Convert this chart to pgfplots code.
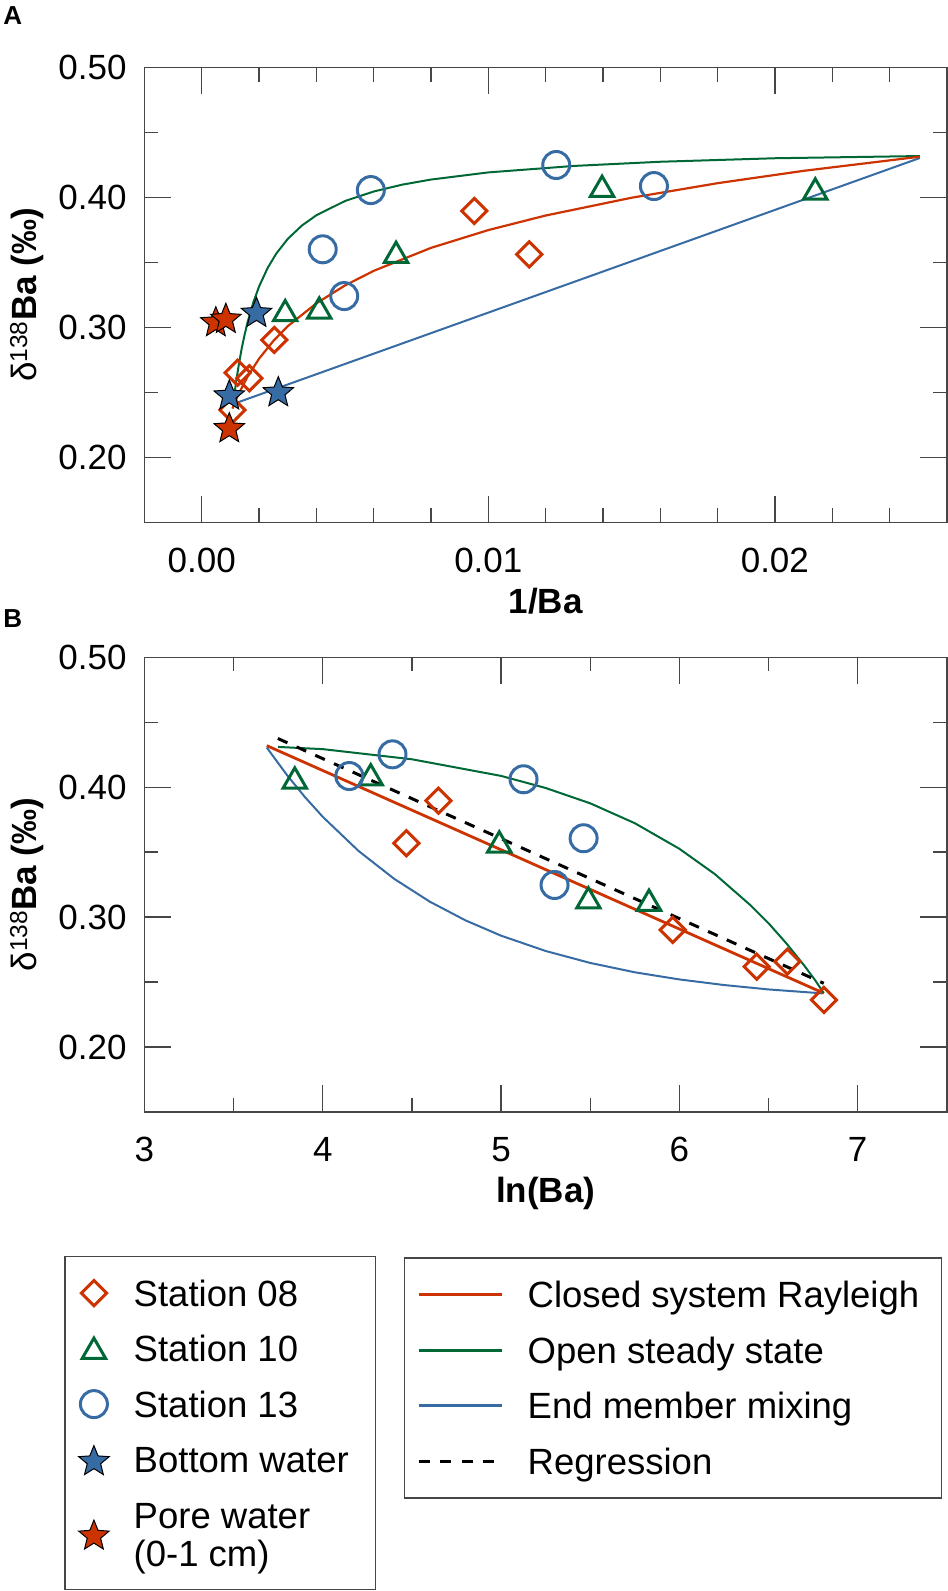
\documentclass[border=0pt]{standalone}
\usepackage{fontspec}
\setmainfont{Liberation Sans}
\usepackage{pgfplots}
\pgfplotsset{compat=1.18}
\definecolor{cred}{RGB}{204,51,0}
\definecolor{cgreen}{RGB}{0,104,55}
\definecolor{cblue}{RGB}{55,107,163}
\definecolor{axgray}{RGB}{70,70,70}

\pgfdeclareplotmark{fstar}{%
  \pgfpathmoveto{\pgfpointpolar{90}{\pgfplotmarksize}}%
  \pgfpathlineto{\pgfpointpolar{126}{0.44\pgfplotmarksize}}%
  \pgfpathlineto{\pgfpointpolar{162}{\pgfplotmarksize}}%
  \pgfpathlineto{\pgfpointpolar{198}{0.44\pgfplotmarksize}}%
  \pgfpathlineto{\pgfpointpolar{234}{\pgfplotmarksize}}%
  \pgfpathlineto{\pgfpointpolar{270}{0.44\pgfplotmarksize}}%
  \pgfpathlineto{\pgfpointpolar{306}{\pgfplotmarksize}}%
  \pgfpathlineto{\pgfpointpolar{342}{0.44\pgfplotmarksize}}%
  \pgfpathlineto{\pgfpointpolar{18}{\pgfplotmarksize}}%
  \pgfpathlineto{\pgfpointpolar{54}{0.44\pgfplotmarksize}}%
  \pgfpathclose
  \pgfusepathqfillstroke}

\newcommand{\tfont}{\fontsize{35}{40}\selectfont}
\newcommand{\lfont}{\fontsize{36.5}{40}\selectfont}
\newcommand{\srow}{\rule[-14.65pt]{0pt}{55.5pt}}
\newcommand{\lentL}[1]{\makebox[241.7pt][l]{\lfont\srow #1}}
\newcommand{\lentR}[1]{\makebox[413.8pt][l]{\lfont\srow #1}}

\pgfplotsset{
  mystyle/.style={
    scale only axis, width=802.3pt, height=454.6pt,
    ymin=0.15, ymax=0.5,
    ytick={0.2,0.3,0.4,0.5}, yticklabels={0.20,0.30,0.40,0.50},
    minor ytick={0.25,0.35,0.45},
    tick align=inside, major tick length=26.7pt, minor tick length=14pt,
    tick style={line width=1.3pt, color=axgray},
    axis line style={line width=1.5pt, color=axgray},
    tick label style={font=\tfont, inner sep=0pt},
    yticklabel style={anchor=east, xshift=-17.7pt},
    xticklabel style={anchor=base, yshift=-49.7pt},
    ylabel={δ\textsuperscript{138}\textbf{Ba (‰)}},
    ylabel style={at={(axis description cs:-0.1467,0.5)}, anchor=center, font=\tfont, inner sep=0pt},
    xlabel style={at={(axis description cs:0.5,0)}, anchor=base, yshift=-91pt, font=\tfont\bfseries, inner sep=0pt},
    /pgf/number format/assume math mode=true,
    scaled x ticks=false, scaled y ticks=false,
    legend cell align=left,
  },
  mylegend/.style={
    legend style={draw=axgray, line width=1.3pt, fill=white,
      inner xsep=0pt, inner ysep=9pt, row sep=0pt, column sep=0pt,
      nodes={inner sep=0pt, text depth=, font=\lfont}, cells={anchor=west}},
  },
  markleg/.style 2 args={legend image code/.code={\path[draw=none,fill=none] (-28.8pt,-1pt) rectangle (39.8pt,1pt); \draw[##1, every mark/.append style={line width=#2}] plot coordinates {(0pt,#1)};}},
  lineleg/.style 2 args={legend image code/.code={\path[draw=none,fill=none] (-14.5pt,-1pt) rectangle (108.8pt,1pt); \draw[#1, line width=2.8pt] (0pt,0pt) -- (#2,0pt);}},
}

\begin{document}
\newsavebox\pwbox
\sbox\pwbox{\parbox[c]{241.7pt}{\fontsize{36.5}{37.9}\selectfont\rule{0pt}{40.85pt}Pore water\\\rule[-14.65pt]{0pt}{0pt}(0-1 cm)}}
\begin{tikzpicture}
\useasboundingbox (0,0) rectangle (945pt,-1591pt);

% ---------------- Panel A ----------------
\begin{axis}[mystyle, mylegend, name=A, at={(141.7pt,-67.7pt)}, anchor=north west,
  xmin=-0.002, xmax=0.026,
  xtick={0,0.01,0.02}, xticklabels={0.00,0.01,0.02},
  minor xtick={0.002,0.004,0.006,0.008,0.012,0.014,0.016,0.018,0.022,0.024},
  xlabel={1/Ba},
  legend style={at={(axis description cs:-0.09971,-1.61328)}, anchor=north west},
]
% End member mixing
\addplot[cblue, line width=2pt, no markers, forget plot] coordinates {(0.00115,0.2415) (0.02506,0.4305)};
% Open steady state
\addplot[cgreen, line width=2pt, no markers, forget plot] coordinates {
(0.00116,0.2520) (0.0012,0.2585) (0.0013,0.2725) (0.0014,0.2846) (0.0015,0.2950)
(0.0016,0.3042) (0.0018,0.3194) (0.002,0.3316) (0.0023,0.3459) (0.0026,0.3569)
(0.003,0.3682) (0.0035,0.3786) (0.004,0.3864) (0.005,0.3974) (0.006,0.4047)
(0.007,0.4100) (0.008,0.4139) (0.010,0.4194) (0.013,0.4244) (0.016,0.4276)
(0.020,0.4303) (0.02506,0.4320)};
% Closed system Rayleigh
\addplot[cred, line width=2.2pt, no markers, forget plot] coordinates {
(0.00107,0.2376) (0.0013,0.2495) (0.0016,0.2623) (0.002,0.2760) (0.0025,0.2897)
(0.003,0.3010) (0.004,0.3186) (0.005,0.3324) (0.006,0.3436) (0.008,0.3613)
(0.010,0.3750) (0.012,0.3862) (0.015,0.3999) (0.018,0.4111) (0.021,0.4206)
(0.02506,0.4315)};
% Station 08
\addplot[cred, only marks, mark=square, mark size=8.9pt,
  mark options={rotate=45, draw=cred, line width=3pt, solid, fill=none}, markleg={0pt}{3pt}]
  coordinates {(0.00253,0.2904) (0.00125,0.2652) (0.00166,0.2609) (0.00107,0.2365) (0.00951,0.3897) (0.01143,0.3563)};
\addlegendentry{\lentL{Station 08}}
% Station 10
\addplot[cgreen, only marks, mark=triangle, mark size=13.5pt,
  mark options={draw=cgreen, line width=3pt, solid, fill=none}, markleg={-3pt}{3pt}]
  coordinates {(0.00291,0.3104) (0.0041,0.3124) (0.00678,0.3553) (0.01397,0.4061) (0.02141,0.4041)};
\addlegendentry{\lentL{Station 10}}
% Station 13
\addplot[cblue, only marks, mark=o, mark size=13.5pt,
  mark options={draw=cblue, line width=3pt, solid, fill=none}, markleg={0pt}{3pt}]
  coordinates {(0.0059,0.4058) (0.00422,0.3602) (0.00497,0.3242) (0.01237,0.4251) (0.01578,0.4089)};
\addlegendentry{\lentL{Station 13}}
% Bottom water
\addplot[cblue, only marks, mark=fstar, mark size=16pt,
  mark options={draw=black, fill=cblue, line width=1pt, solid}, markleg={-2pt}{1pt}]
  coordinates {(0.00191,0.3109) (0.00096,0.2473) (0.00267,0.2498)};
\addlegendentry{\lentL{Bottom water}}
% Pore water
\addplot[cred, only marks, mark=fstar, mark size=16pt,
  mark options={draw=black, fill=cred, line width=1pt, solid}, markleg={-2pt}{1pt}]
  coordinates {(0.00049,0.3037) (0.00084,0.3063) (0.00096,0.2221)};
\addlegendentry{\usebox\pwbox}
\end{axis}

% ---------------- Panel B ----------------
\begin{axis}[mystyle, mylegend, name=B, at={(141.7pt,-657.3pt)}, anchor=north west,
  xmin=3, xmax=7.5,
  xtick={3,4,5,6,7}, xticklabels={3,4,5,6,7},
  minor xtick={3.5,4.5,5.5,6.5},
  xlabel={ln(Ba)},
  legend style={at={(axis description cs:0.3232,-0.31962)}, anchor=north west},
]
\addplot[cred, line width=2.8pt, no markers, lineleg={cred}{83.2pt}]
  coordinates {(3.686,0.4320) (6.81,0.2414)};
\addlegendentry{\lentR{Closed system Rayleigh}}
\addplot[cgreen, line width=2pt, no markers, lineleg={cgreen}{83.2pt}]
  coordinates {
(3.75,0.4310) (4.0,0.4293) (4.5,0.4215) (5.0,0.4087) (5.25,0.3994) (5.5,0.3876)
(5.75,0.3723) (6.0,0.3526) (6.2,0.3330) (6.4,0.3090) (6.5,0.2953) (6.6,0.2798)
(6.7,0.2628) (6.76,0.2517) (6.81,0.2415)};
\addlegendentry{\lentR{Open steady state}}
\addplot[cblue, line width=2pt, no markers, lineleg={cblue}{83.2pt}]
  coordinates {
(3.686,0.4305) (3.8,0.4092) (3.9,0.3924) (4.0,0.3772) (4.2,0.3510) (4.4,0.3295)
(4.6,0.3119) (4.8,0.2975) (5.0,0.2857) (5.25,0.2739) (5.5,0.2647) (5.75,0.2575)
(6.0,0.2520) (6.25,0.2477) (6.5,0.2443) (6.80,0.2413)};
\addlegendentry{\lentR{End member mixing}}
\addplot[black, line width=3pt, no markers, dash pattern=on 10.5pt off 10pt,
  lineleg={black, dash pattern=on 11pt off 10.3pt}{75pt}]
  coordinates {(3.748,0.4375) (6.81,0.2490)};
\addlegendentry{\lentR{Regression}}
% markers
\addplot[cred, only marks, mark=square, mark size=8.9pt, forget plot,
  mark options={rotate=45, draw=cred, line width=3pt, solid, fill=none}]
  coordinates {(4.649,0.3896) (4.469,0.3568) (5.963,0.2901) (6.434,0.2618) (6.606,0.2657) (6.811,0.2362)};
\addplot[cgreen, only marks, mark=triangle, mark size=13.5pt, forget plot,
  mark options={draw=cgreen, line width=3pt, solid, fill=none}]
  coordinates {(3.843,0.4045) (4.269,0.4070) (4.990,0.3553) (5.490,0.3122) (5.830,0.3104)};
\addplot[cblue, only marks, mark=o, mark size=13.5pt, forget plot,
  mark options={draw=cblue, line width=3pt, solid, fill=none}]
  coordinates {(4.149,0.4086) (4.391,0.4253) (5.126,0.4061) (5.463,0.3607) (5.300,0.3247)};
\end{axis}

\node[font=\fontsize{26}{30}\selectfont\bfseries, inner sep=0pt, anchor=center] at ([xshift=-131.7pt,yshift=51.7pt]A.north west) {A};
\node[font=\fontsize{26}{30}\selectfont\bfseries, inner sep=0pt, anchor=center] at ([xshift=-131.7pt,yshift=38.3pt]B.north west) {B};
\end{tikzpicture}
\end{document}
